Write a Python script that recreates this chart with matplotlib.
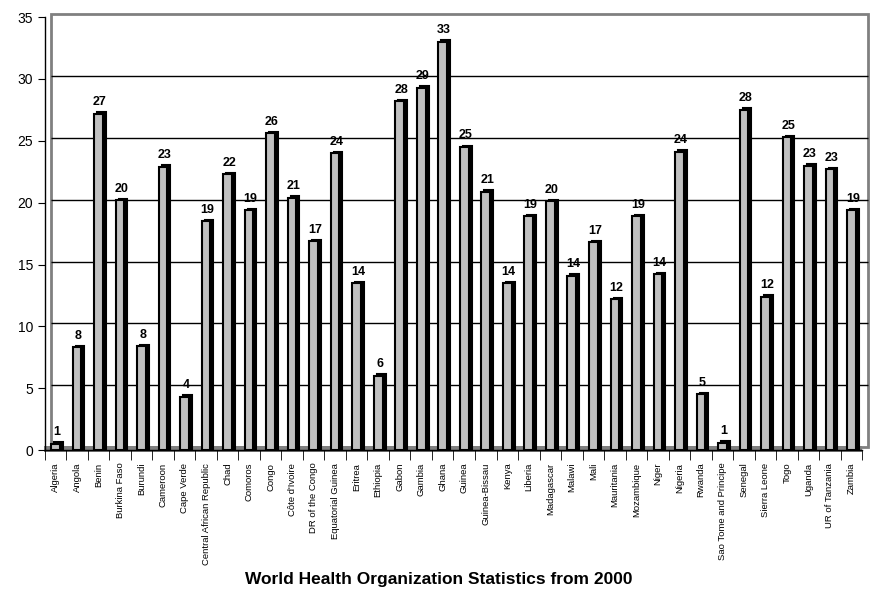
import matplotlib.pyplot as plt
import matplotlib.transforms as mtransforms
from matplotlib.patches import Rectangle

plt.rcParams['font.family'] = ['Liberation Sans', 'DejaVu Sans']

countries = ['Algeria', 'Angola', 'Benin', 'Burkina Faso', 'Burundi', 'Cameroon',
             'Cape Verde', 'Central African Republic', 'Chad', 'Comoros', 'Congo',
             "Côte d'Ivoire", 'DR of the Congo', 'Equatorial Guinea', 'Eritrea',
             'Ethiopia', 'Gabon', 'Gambia', 'Ghana', 'Guinea', 'Guinea-Bissau',
             'Kenya', 'Liberia', 'Madagascar', 'Malawi', 'Mali', 'Mauritania',
             'Mozambique', 'Niger', 'Nigeria', 'Rwanda', 'Sao Tome and Principe',
             'Senegal', 'Sierra Leone', 'Togo', 'Uganda', 'UR of Tanzania', 'Zambia']

values = [0.5, 8.3, 27.2, 20.2, 8.4, 22.9, 4.3, 18.5, 22.3, 19.4, 25.6, 20.4, 16.9,
          24.0, 13.5, 6.0, 28.2, 29.3, 33.0, 24.5, 20.9, 13.5, 18.9, 20.1, 14.1,
          16.8, 12.2, 18.9, 14.2, 24.1, 4.5, 0.6, 27.5, 12.4, 25.3, 23.0, 22.7, 19.4]

labels = ['1', '8', '27', '20', '8', '23', '4', '19', '22', '19', '26', '21', '17',
          '24', '14', '6', '28', '29', '33', '25', '21', '14', '19', '20', '14',
          '17', '12', '19', '14', '24', '5', '1', '28', '12', '25', '23', '23', '19']

fig = plt.figure(figsize=(8.78, 5.9), dpi=100)
ax = fig.add_axes([0.051, 0.237, 0.931, 0.734])

x = list(range(len(countries)))
ax.set_xlim(-0.5, len(countries) - 0.5)
ax.set_ylim(0, 35)

# псевдо-3D: задняя стенка и пол смещены вправо-вверх
depth = mtransforms.ScaledTranslation(6 / 100, 3 / 100, fig.dpi_scale_trans)
wall = ax.transAxes + depth
ax.add_patch(Rectangle((0, 0), 1, 1, transform=wall, fill=False,
                       edgecolor='#808080', linewidth=2, clip_on=False, zorder=0))
ax.add_patch(Rectangle((-0.008, -0.012), 1.0, 0.014, transform=wall, facecolor='#808080',
                       edgecolor='none', clip_on=False, zorder=0.5))

# сетка на задней стенке
grid_vals = [5, 10, 15, 20, 25, 30]
ax.hlines(grid_vals, 0, 1, transform=ax.get_yaxis_transform() + depth,
          colors='black', linewidth=1, zorder=0.6, clip_on=False)

# столбики: чёрная боковая грань, затем серая передняя
shift = mtransforms.ScaledTranslation(3 / 100, 1.5 / 100, fig.dpi_scale_trans)
ax.bar(x, values, width=0.4, color='black', edgecolor='black', linewidth=1.5,
       transform=ax.transData + shift, zorder=2)
ax.bar(x, values, width=0.4, color='#c0c0c0', edgecolor='black', linewidth=1.5,
       zorder=3)

for xi, v, lab in zip(x, values, labels):
    ax.annotate(lab, (xi, v), xytext=(1, 4), textcoords='offset points',
                ha='center', va='bottom', fontsize=9, fontweight='bold', zorder=4)

ax.spines['top'].set_visible(False)
ax.spines['right'].set_visible(False)
ax.spines['left'].set_linewidth(1)
ax.spines['bottom'].set_linewidth(1)

ax.set_yticks([0, 5, 10, 15, 20, 25, 30, 35])
ax.tick_params(axis='y', labelsize=10, length=5, direction='out')
ax.set_xticks(x)
ax.set_xticklabels(countries, rotation=90, fontsize=6.8)
ax.tick_params(axis='x', length=0, pad=9)
ax.set_xticks([i - 0.5 for i in range(len(countries) + 1)], minor=True)
ax.tick_params(axis='x', which='minor', length=7, direction='out')

fig.text(0.5, 0.005, 'World Health Organization Statistics from 2000',
         ha='center', va='bottom', fontsize=12.5, fontweight='bold')

fig.savefig('out.png', dpi=100)
